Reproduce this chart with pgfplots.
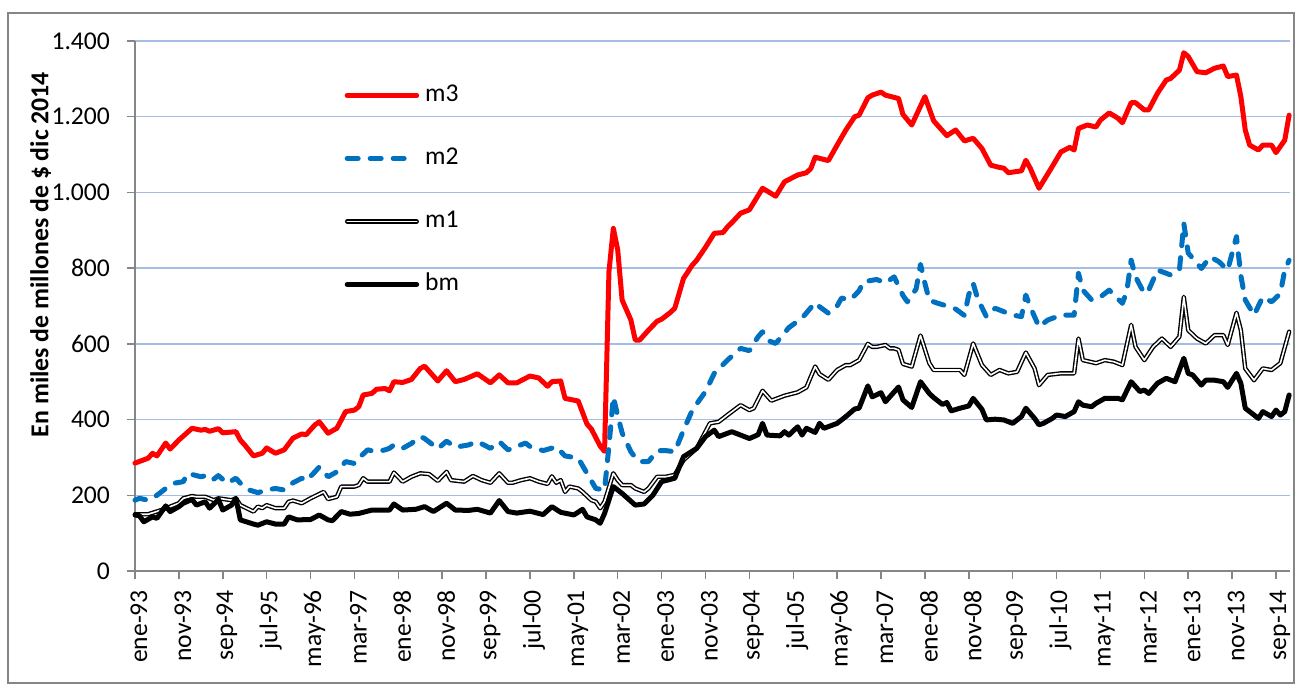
\documentclass[border=0pt]{standalone}
\usepackage{pgfplots}
\pgfplotsset{compat=1.18}
\usepackage{fontspec}
\setmainfont{Carlito}
\definecolor{gridblue}{RGB}{166,188,228}
\definecolor{axgray}{RGB}{134,134,134}
\definecolor{m2blue}{RGB}{0,112,192}
\newcommand{\tickfont}{\fontsize{12.8}{15}\selectfont}
\pgfplotsset{shortlegend/.style={legend image code/.code={\draw[##1] (0pt,0pt) -- (29.5pt,0pt);}}}
\begin{document}
\begin{tikzpicture}
\path[use as bounding box] (-67.5pt,-56.5pt) rectangle (580pt,285.5pt);
\draw[axgray,line width=0.75pt] (-63.5pt,-56.1pt) rectangle (579.6pt,279pt);
\begin{axis}[
  at={(0pt,0pt)}, anchor=south west,
  scale only axis, width=577.5pt, height=265pt,
  xmin=0, xmax=263.2, ymin=0, ymax=1400,
  clip=false,
  axis x line*=bottom, axis y line*=left,
  axis line style={axgray, line width=0.75pt, -},
  xtick={0,10,...,260},
  xticklabels={ene-93,nov-93,sep-94,jul-95,may-96,mar-97,ene-98,nov-98,sep-99,jul-00,may-01,mar-02,ene-03,nov-03,sep-04,jul-05,may-06,mar-07,ene-08,nov-08,sep-09,jul-10,may-11,mar-12,ene-13,nov-13,sep-14},
  ytick={0,200,...,1400},
  tick align=outside, major tick length=4pt,
  tick style={axgray, line width=0.75pt},
  ymajorgrids, major grid style={gridblue, line width=0.7pt},
  yticklabel style={font=\tickfont, xshift=-5pt},
  xticklabel style={font=\tickfont, xshift=2pt, yshift=-2pt, rotate=90, anchor=east},
  /pgf/number format/1000 sep={.},
  /pgf/number format/assume math mode=true,
  ylabel={En miles de millones de \$ dic 2014},
  every axis y label/.style={at={(axis description cs:-0.0751,0.597)}, rotate=90, anchor=base, font=\bfseries\fontsize{12.9}{15}\selectfont},
  legend cell align=left,
  legend image code/.code={\draw[#1] (0pt,0pt) -- (34.75pt,0pt);},
  legend style={draw=none, fill=none, at={(axis description cs:0.1812,0.9207)}, anchor=north west,
    inner sep=0pt, row sep=19.5pt, column sep=3pt,
    nodes={inner sep=0pt, text height=9pt, text depth=3pt, font=\tickfont}},
  every axis plot/.append style={line join=round, line cap=round},
]
\addplot[color=red, line width=2.5pt] coordinates {
(0,285)(3,298)(4,311)(5,304)(7,338)(8,322)(10,346)(13,377)(15,372)(16,374)(17,369)(19,376)(20,365)(23,368)(24,346)(25,333)(27,304)(29,311)(30,325)(32,311)(34,320)(36,351)(38,362)(39,360)(41,386)(42,394)(44,364)(46,377)(48,421)(50,425)(51,434)(52,465)(54,469)(55,480)(57,482)(58,476)(59,500)(61,498)(63,506)(65,535)(66,541)(69,502)(71,529)(73,500)(75,506)(78,521)(81,497)(83,518)(85,497)(87,497)(90,515)(92,510)(94,488)(95,500)(97,502)(98,456)(101,449)(103,388)(104,375)(106,330)(107,316)(108,790)(109,905)(110,848)(111,716)(113,663)(114,610)(115,610)(117,636)(119,660)(120,665)(122,683)(123,694)(125,773)(127,808)(128,821)(130,855)(132,892)(134,894)(135,909)(136,920)(138,945)(140,954)(143,1011)(146,990)(148,1028)(151,1046)(153,1052)(154,1063)(155,1093)(158,1084)(160,1125)(162,1165)(164,1200)(165,1204)(167,1250)(168,1257)(170,1265)(171,1257)(174,1248)(175,1206)(177,1178)(180,1253)(182,1189)(185,1150)(187,1165)(189,1136)(191,1143)(193,1116)(195,1072)(197,1066)(198,1064)(199,1052)(202,1057)(203,1085)(204,1064)(206,1011)(209,1068)(211,1107)(213,1119)(214,1112)(215,1169)(217,1178)(219,1173)(220,1191)(222,1210)(224,1196)(225,1184)(227,1237)(228,1237)(230,1218)(231,1218)(233,1262)(235,1297)(236,1301)(238,1323)(239,1369)(240,1359)(242,1319)(244,1316)(246,1328)(248,1334)(249,1306)(251,1310)(252,1253)(253,1165)(254,1125)(256,1112)(257,1125)(259,1125)(260,1105)(262,1138)(263,1204)
};
\addlegendentry{m3}
\addplot[color=m2blue, line width=2.5pt, dash pattern=on 5.5pt off 6pt, shortlegend] coordinates {
(0,187)(1,192)(3,187)(5,200)(7,218)(9,232)(11,236)(12,258)(15,249)(17,254)(18,243)(19,252)(21,232)(23,245)(24,232)(26,214)(28,207)(30,214)(32,218)(34,214)(36,233)(38,245)(39,238)(41,262)(42,275)(44,249)(46,262)(48,289)(50,284)(51,298)(53,320)(55,315)(57,320)(58,324)(59,333)(61,324)(63,337)(65,355)(66,350)(69,323)(71,343)(73,327)(76,333)(78,342)(81,324)(83,342)(85,320)(89,338)(90,329)(93,318)(96,328)(98,304)(101,298)(103,258)(105,218)(107,214)(108,330)(109,460)(110,410)(111,365)(112,340)(113,315)(114,300)(115,289)(117,289)(119,318)(121,318)(123,315)(125,372)(127,425)(130,474)(132,522)(135,557)(138,588)(140,582)(142,619)(143,632)(144,610)(146,601)(149,643)(152,668)(155,709)(156,698)(158,681)(160,700)(161,721)(163,716)(165,740)(166,764)(169,770)(171,761)(173,777)(175,728)(176,711)(178,745)(179,810)(180,760)(181,715)(183,707)(185,700)(187,692)(189,675)(190,730)(191,760)(192,720)(194,672)(196,694)(198,685)(200,676)(202,672)(203,729)(204,698)(206,645)(208,663)(211,676)(214,676)(215,786)(216,742)(218,716)(220,724)(222,742)(225,707)(226,738)(227,821)(228,777)(230,733)(231,742)(233,795)(236,782)(238,795)(239,918)(240,840)(243,799)(245,830)(247,817)(249,795)(251,883)(252,780)(253,716)(255,676)(257,724)(259,711)(261,733)(262,795)(263,821)
};
\addlegendentry{m2}
\addplot[draw=black, line width=0.7pt, double=white, double distance=0.8pt] coordinates {
(0,150)(3,150)(6,161)(8,170)(10,179)(11,192)(13,198)(14,196)(16,196)(18,187)(19,192)(22,187)(23,192)(24,174)(27,157)(28,170)(29,166)(30,174)(32,166)(34,166)(35,183)(36,186)(38,179)(40,192)(43,209)(44,190)(46,196)(47,223)(50,223)(51,227)(52,245)(53,236)(56,236)(58,236)(59,260)(61,236)(63,249)(65,258)(67,256)(69,238)(71,262)(72,240)(75,236)(77,251)(79,240)(81,233)(83,258)(85,233)(86,233)(88,240)(90,245)(92,236)(94,230)(95,250)(96,233)(97,240)(98,209)(99,223)(101,218)(102,209)(104,187)(105,183)(106,166)(107,183)(109,258)(110,240)(111,227)(113,227)(114,218)(116,209)(117,218)(119,249)(121,249)(123,254)(125,293)(128,324)(131,390)(133,394)(135,412)(138,438)(140,425)(141,430)(143,476)(145,450)(148,463)(151,472)(153,485)(154,513)(155,540)(156,520)(158,505)(160,531)(162,544)(163,544)(165,557)(167,600)(168,592)(169,592)(171,597)(172,588)(173,588)(174,584)(175,547)(177,540)(179,622)(181,549)(182,531)(185,531)(188,531)(189,518)(191,601)(193,544)(195,518)(197,531)(199,522)(201,526)(203,577)(205,535)(206,491)(208,518)(211,522)(214,522)(215,614)(216,557)(219,549)(221,557)(223,553)(225,544)(227,650)(228,592)(230,557)(232,592)(234,614)(236,592)(238,619)(239,724)(240,636)(242,614)(244,601)(246,623)(248,623)(249,597)(251,682)(252,636)(253,535)(255,504)(257,535)(259,531)(261,549)(263,632)
};
\addlegendentry{m1}
\addplot[color=black, line width=2.5pt] coordinates {
(0,148)(1,146)(2,130)(4,143)(5,139)(7,172)(8,157)(10,170)(11,179)(13,189)(14,174)(16,183)(17,166)(19,189)(20,161)(22,174)(23,192)(24,135)(27,124)(28,121)(30,130)(32,124)(34,124)(35,143)(37,135)(40,136)(42,148)(44,135)(45,133)(47,157)(49,150)(51,152)(54,161)(58,161)(59,177)(61,161)(64,163)(66,170)(68,157)(71,179)(73,161)(76,160)(78,163)(81,153)(83,186)(85,157)(87,153)(90,158)(93,149)(95,170)(97,155)(100,148)(102,163)(103,143)(105,135)(106,126)(107,152)(109,223)(111,205)(114,174)(116,177)(118,200)(120,236)(123,245)(125,302)(128,324)(130,355)(132,372)(133,355)(136,368)(138,359)(140,350)(142,360)(143,390)(144,359)(147,357)(148,368)(149,359)(151,381)(152,359)(153,377)(155,366)(156,390)(157,377)(160,390)(162,408)(164,428)(165,430)(167,489)(168,460)(170,471)(171,447)(174,486)(175,452)(177,432)(179,500)(181,469)(182,458)(184,440)(185,445)(186,423)(188,430)(190,436)(191,456)(193,427)(194,399)(196,401)(198,399)(200,390)(202,408)(203,430)(205,403)(206,386)(207,390)(209,403)(210,412)(212,408)(214,421)(215,447)(216,438)(218,434)(219,443)(221,456)(224,456)(225,452)(227,500)(229,474)(230,478)(231,469)(233,496)(235,509)(237,500)(239,562)(240,522)(241,518)(243,491)(244,504)(246,504)(248,500)(249,485)(251,522)(252,496)(253,430)(254,421)(256,403)(257,421)(259,408)(260,425)(261,412)(262,421)(263,465)
};
\addlegendentry{bm}
\end{axis}
\end{tikzpicture}
\end{document}
